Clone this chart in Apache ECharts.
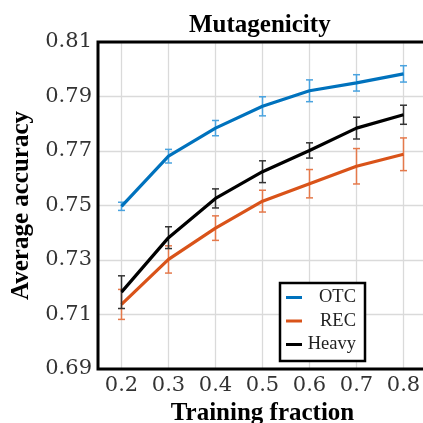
<!DOCTYPE html>
<html>
<head>
<meta charset="utf-8">
<script src="https://cdn.jsdelivr.net/npm/echarts@6/dist/echarts.min.js"></script>
<style>
html,body{margin:0;padding:0;background:#fff;}
#chart{width:423px;height:423px;}
</style>
</head>
<body>
<div id="chart"></div>
<script>
const fractions = [0.2, 0.3, 0.4, 0.5, 0.6, 0.7, 0.8];
const otcMean = [0.7497, 0.7681, 0.7784, 0.7864, 0.7921, 0.7950, 0.7983];
const otcErr = [0.0015, 0.0025, 0.0028, 0.0035, 0.0040, 0.0030, 0.0030];
const recMean = [0.7137, 0.7302, 0.7417, 0.7516, 0.7580, 0.7644, 0.7688];
const recErr = [0.0055, 0.0050, 0.0045, 0.0040, 0.0052, 0.0065, 0.0060];
const heavyMean = [0.7182, 0.7382, 0.7526, 0.7624, 0.7702, 0.7784, 0.7833];
const heavyErr = [0.0060, 0.0040, 0.0035, 0.0040, 0.0028, 0.0040, 0.0035];
const xTickLabels = ['0.2', '0.3', '0.4', '0.5', '0.6', '0.7', '0.8'];
const yTickLabels = ['0.69', '0.71', '0.73', '0.75', '0.77', '0.79', '0.81'];
const seriesNames = ['OTC', 'REC', 'Heavy'];

const lineColors = ['#0072BD', '#D95319', '#000000'];
const barColors = ['#4aa3df', '#e5794b', '#333333'];

function pairs(means) { return fractions.map((f, i) => [f, means[i]]); }
function bars(means, errs) { return fractions.map((f, i) => [f, means[i] - errs[i], means[i] + errs[i]]); }

function errRender(color) {
  return function (params, api) {
    const x = api.value(0);
    const p1 = api.coord([x, api.value(1)]);
    const p2 = api.coord([x, api.value(2)]);
    const w = 3.5;
    const st = { stroke: color, lineWidth: 1.5 };
    return {
      type: 'group',
      children: [
        { type: 'line', shape: { x1: p1[0], y1: p1[1], x2: p2[0], y2: p2[1] }, style: st },
        { type: 'line', shape: { x1: p1[0] - w, y1: p1[1], x2: p1[0] + w, y2: p1[1] }, style: st },
        { type: 'line', shape: { x1: p2[0] - w, y1: p2[1], x2: p2[0] + w, y2: p2[1] }, style: st }
      ]
    };
  };
}

const means = [otcMean, recMean, heavyMean];
const errs = [otcErr, recErr, heavyErr];
const series = [];
for (let k = 0; k < 3; k++) {
  series.push({
    name: seriesNames[k],
    type: 'line',
    data: pairs(means[k]),
    showSymbol: false,
    symbol: 'none',
    lineStyle: { color: lineColors[k], width: 3.2 },
    itemStyle: { color: lineColors[k] },
    z: 3 + k * 2,
    animation: false
  });
  series.push({
    name: seriesNames[k] + ' err',
    type: 'custom',
    data: bars(means[k], errs[k]),
    encode: { x: 0, y: [1, 2] },
    renderItem: errRender(barColors[k]),
    z: 2 + k * 2,
    clip: false,
    silent: true,
    animation: false
  });
}

const chart = echarts.init(document.getElementById('chart'), null, { renderer: 'canvas' });
chart.setOption({
  backgroundColor: '#ffffff',
  animation: false,
  title: {
    text: 'Mutagenicity',
    left: 189,
    top: 13,
    padding: 0,
    textStyle: { fontFamily: 'Liberation Serif', fontWeight: 'bold', fontSize: 25, color: '#000' }
  },
  grid: {
    left: 98, top: 42, right: -4, bottom: 54,
    show: true, borderColor: '#000', borderWidth: 3, backgroundColor: 'transparent',
    containLabel: false, outerBoundsMode: 'none', z: 10
  },
  legend: {
    data: seriesNames,
    orient: 'vertical',
    left: 280,
    top: 283,
    padding: [5, 9, 7, 6],
    itemGap: 4.5,
    itemWidth: 16,
    itemHeight: 3,
    icon: 'rect',
    borderColor: '#000',
    borderWidth: 2.5,
    backgroundColor: '#fff',
    formatter: '{a|{name}}',
    textStyle: {
      fontFamily: 'Liberation Serif',
      fontSize: 18.5,
      color: '#222',
      padding: [0, 0, 0, 0],
      rich: { a: { width: 49, align: 'right', fontFamily: 'Liberation Serif', fontSize: 18.5, lineHeight: 18, color: '#222' } }
    }
  },
  xAxis: {
    type: 'value',
    min: 0.15,
    max: 0.85,
    interval: 0.05,
    name: 'Training fraction',
    nameLocation: 'middle',
    nameGap: 29,
    nameTextStyle: { fontFamily: 'Liberation Serif', fontWeight: 'bold', fontSize: 25, color: '#000' },
    axisLine: { show: false },
    axisTick: { show: false },
    axisLabel: {
      margin: 6,
      fontFamily: 'DejaVu Serif',
      fontSize: 21,
      color: '#333',
      formatter: function (v) { const s = v.toFixed(1); return (xTickLabels.includes(s) && Math.abs(v - parseFloat(s)) < 1e-6) ? s : ''; }
    },
    splitLine: { show: true, lineStyle: { color: ['rgba(0,0,0,0)', '#dadada'], width: 1.3 } }
  },
  yAxis: {
    type: 'value',
    min: 0.69,
    max: 0.81,
    interval: 0.01,
    name: 'Average accuracy',
    nameLocation: 'middle',
    nameGap: 60,
    nameTextStyle: { fontFamily: 'Liberation Serif', fontWeight: 'bold', fontSize: 25, color: '#000' },
    axisLine: { show: false },
    axisTick: { show: false },
    axisLabel: {
      margin: 6,
      fontFamily: 'DejaVu Serif',
      fontSize: 21,
      color: '#333',
      formatter: function (v) { const s = v.toFixed(2); return yTickLabels.includes(s) ? s : ''; }
    },
    splitLine: { show: true, lineStyle: { color: ['#dadada', 'rgba(0,0,0,0)'], width: 1.3 } }
  },
  series: series
});
</script>
</body>
</html>
